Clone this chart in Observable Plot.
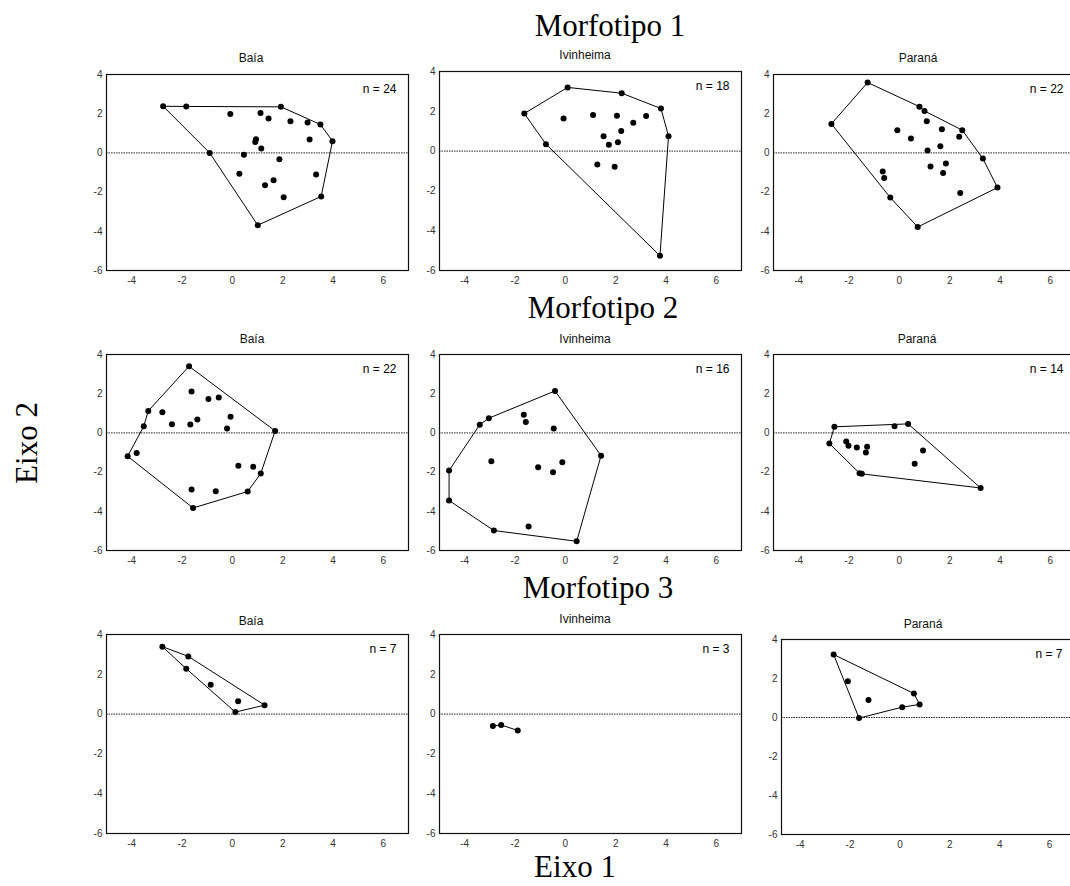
<!DOCTYPE html>
<html><head><meta charset="utf-8">
<script src="https://cdn.jsdelivr.net/npm/d3@7"></script>
<script src="https://cdn.jsdelivr.net/npm/@observablehq/plot@0.6"></script>
<style>
body{margin:0;background:#fff;}
#chart{position:relative;width:1070px;height:886px;overflow:hidden;background:#fff;}
</style></head><body><div id="chart"></div>
<script>
// ---- labels ----
const morphotypes = ["Morfotipo 1", "Morfotipo 2", "Morfotipo 3"];
const sites = ["Baía", "Ivinheima", "Paraná"];
const xAxisTitle = "Eixo 1";
const yAxisTitle = "Eixo 2";
const xTicks = [-4, -2, 0, 2, 4, 6];
const yTicks = [-6, -4, -2, 0, 2, 4];
const xDomain = [-5, 7];
const yDomain = [-6, 4];

// ---- data (Eixo 1 = x, Eixo 2 = y); hull = polygon vertex order ----
const m1BaiaX = [-2.75,-1.83,1.93,-0.08,1.12,1.44,2.31,2.99,3.50,3.07,3.98,0.94,0.91,1.15,-0.90,0.46,1.87,0.28,3.33,1.64,1.30,2.04,3.53,1.01];
const m1BaiaY = [2.38,2.37,2.35,1.99,2.04,1.76,1.62,1.55,1.45,0.68,0.60,0.70,0.55,0.22,0.00,-0.10,-0.32,-1.07,-1.10,-1.39,-1.65,-2.26,-2.22,-3.69];
const m1BaiaHull = [0,1,2,8,10,22,23,14,0];

const m1IvinX = [0.09,2.24,3.80,-1.63,4.10,-0.77,3.76,-0.07,1.10,2.05,2.70,3.21,2.22,1.52,1.73,2.09,1.27,1.96];
const m1IvinY = [3.20,2.91,2.14,1.89,0.75,0.35,-5.26,1.64,1.81,1.78,1.42,1.76,1.01,0.75,0.32,0.44,-0.67,-0.79];
const m1IvinHull = [0,1,2,4,6,5,3,0];

const m1ParX = [-1.26,-2.70,0.80,1.00,1.09,2.50,1.69,-0.08,0.46,2.38,1.63,1.12,3.32,1.85,1.24,1.74,-0.66,-0.60,3.90,2.42,-0.36,0.73];
const m1ParY = [3.59,1.48,2.36,2.14,1.62,1.16,1.21,1.16,0.73,0.83,0.34,0.12,-0.29,-0.54,-0.70,-1.02,-0.95,-1.28,-1.77,-2.04,-2.28,-3.78];
const m1ParHull = [0,2,3,5,12,18,21,20,1,0];

const m2BaiaX = [-1.72,-1.62,-0.95,-0.54,-3.34,-2.78,-0.07,-1.39,-2.40,-1.67,-3.52,-0.21,1.70,-3.80,-4.16,0.24,0.83,1.13,-1.62,-0.66,0.61,-1.56];
const m2BaiaY = [3.40,2.11,1.73,1.80,1.12,1.05,0.83,0.68,0.44,0.43,0.34,0.22,0.10,-1.02,-1.19,-1.68,-1.73,-2.07,-2.89,-2.98,-2.99,-3.83];
const m2BaiaHull = [0,12,17,20,21,14,10,4,0];

const m2IvinX = [-0.41,-3.04,-1.65,-1.57,-0.46,1.42,-2.94,-1.08,-0.12,-0.49,-1.46,-2.84,0.45,-3.40,-4.62,-4.62];
const m2IvinY = [2.14,0.75,0.92,0.56,0.22,-1.16,-1.45,-1.75,-1.50,-2.01,-4.78,-4.98,-5.53,0.42,-1.92,-3.45];
const m2IvinHull = [0,5,12,11,15,14,13,1,0];

const m2ParX = [-2.58,-0.19,0.35,-2.78,-2.11,-2.02,-1.69,-1.28,-1.33,0.94,0.61,-1.58,-1.49,3.23];
const m2ParY = [0.31,0.34,0.46,-0.54,-0.44,-0.66,-0.75,-0.71,-1.00,-0.90,-1.58,-2.06,-2.09,-2.81];
const m2ParHull = [0,2,13,12,11,3,0];

const m3BaiaX = [-2.78,-1.75,-1.83,-0.86,0.23,1.28,0.12];
const m3BaiaY = [3.39,2.90,2.28,1.48,0.64,0.45,0.10];
const m3BaiaHull = [0,1,5,6,2,0];

const m3IvinX = [-2.88,-2.55,-1.89];
const m3IvinY = [-0.60,-0.55,-0.82];
const m3IvinHull = [0,1,2];

const m3ParX = [-2.66,-2.09,-1.26,0.56,0.79,0.09,-1.64];
const m3ParY = [3.23,1.86,0.90,1.23,0.67,0.53,-0.03];
const m3ParHull = [0,3,4,5,6,0];

// ---- layout (frame left, top, width, height), titles ----
const panels = [
  {r:0,c:0,xs:m1BaiaX,ys:m1BaiaY,hull:m1BaiaHull,f:[106,74,302,196],t:[251,62]},
  {r:0,c:1,xs:m1IvinX,ys:m1IvinY,hull:m1IvinHull,f:[439,71,302,199],t:[585,59]},
  {r:0,c:2,xs:m1ParX,ys:m1ParY,hull:m1ParHull,f:[773,74,302,196],t:[918,62]},
  {r:1,c:0,xs:m2BaiaX,ys:m2BaiaY,hull:m2BaiaHull,f:[106,354,302,196],t:[252,343]},
  {r:1,c:1,xs:m2IvinX,ys:m2IvinY,hull:m2IvinHull,f:[439,354,302,196],t:[585,343]},
  {r:1,c:2,xs:m2ParX,ys:m2ParY,hull:m2ParHull,f:[773,354,302,196],t:[917,343]},
  {r:2,c:0,xs:m3BaiaX,ys:m3BaiaY,hull:m3BaiaHull,f:[106,634,302,199],t:[251,625]},
  {r:2,c:1,xs:m3IvinX,ys:m3IvinY,hull:m3IvinHull,f:[439,634,302,199],t:[585,623]},
  {r:2,c:2,xs:m3ParX,ys:m3ParY,hull:m3ParHull,f:[781,639,293,195],t:[923,628],xmin:-4.75}
];
const rowTitlePos = [[610,36],[603,318],[598,598]];

const chart = document.getElementById("chart");
const sans = "'Liberation Sans', Arial, Helvetica, sans-serif";
const serif = "'Liberation Serif', 'Times New Roman', Times, serif";

for (const p of panels) {
  const [fx, fy, fw, fh] = p.f;
  const ml = 30, mr = 8, mt = 8, mb = 28;
  const pts = p.xs.map((x, i) => ({x, y: p.ys[i]}));
  const hullPts = p.hull.map(i => pts[i]);
  const xdom = p.xmin !== undefined ? [p.xmin, xDomain[1]] : xDomain;
  const svg = Plot.plot({
    width: fw + ml + mr,
    height: fh + mt + mb,
    marginLeft: ml, marginRight: mr, marginTop: mt, marginBottom: mb,
    x: {domain: xdom, ticks: xTicks, tickSize: 0, tickPadding: 6, tickFormat: d => String(d), label: null},
    y: {domain: yDomain, ticks: yTicks, tickSize: 0, tickPadding: 4, tickFormat: d => String(d), label: null},
    style: {fontFamily: sans, fontSize: "10px", color: "#333", background: "transparent", overflow: "visible"},
    marks: [
      Plot.ruleY([0], {stroke: "#222", strokeWidth: 1, strokeDasharray: "1.5,1"}),
      Plot.line(hullPts, {x: "x", y: "y", stroke: "#000", strokeWidth: 1}),
      Plot.dot(pts, {x: "x", y: "y", r: 3, fill: "#000", stroke: "none"}),
      Plot.text([`n = ${p.xs.length}`], {frameAnchor: "top-right", textAnchor: "end", lineAnchor: "top", dx: -12, dy: 10, fontSize: 12, fill: "#000", fontFamily: sans}),
      Plot.frame({stroke: "#111", strokeWidth: 1.2})
    ]
  });
  svg.style.position = "absolute";
  svg.style.left = (fx - ml) + "px";
  svg.style.top = (fy - mt) + "px";
  chart.appendChild(svg);
}

// overlay texts
const ov = d3.select(chart).append("svg")
  .attr("width", 1070).attr("height", 886)
  .style("position", "absolute").style("left", 0).style("top", 0)
  .style("pointer-events", "none");

ov.selectAll("text.row").data(morphotypes).join("text")
  .attr("class", "row")
  .attr("x", (d, i) => rowTitlePos[i][0]).attr("y", (d, i) => rowTitlePos[i][1])
  .attr("text-anchor", "middle").attr("font-family", serif).attr("font-size", 31).attr("fill", "#000")
  .text(d => d);

ov.selectAll("text.site").data(panels).join("text")
  .attr("class", "site")
  .attr("x", d => d.t[0]).attr("y", d => d.t[1])
  .attr("text-anchor", "middle").attr("font-family", sans).attr("font-size", 12).attr("fill", "#111")
  .text(d => sites[d.c]);

ov.append("text").attr("x", 575).attr("y", 877)
  .attr("text-anchor", "middle").attr("font-family", serif).attr("font-size", 31).attr("fill", "#000")
  .text(xAxisTitle);

ov.append("text").attr("transform", "translate(37,443) rotate(-90)")
  .attr("text-anchor", "middle").attr("font-family", serif).attr("font-size", 31).attr("fill", "#000")
  .text(yAxisTitle);
</script></body></html>
